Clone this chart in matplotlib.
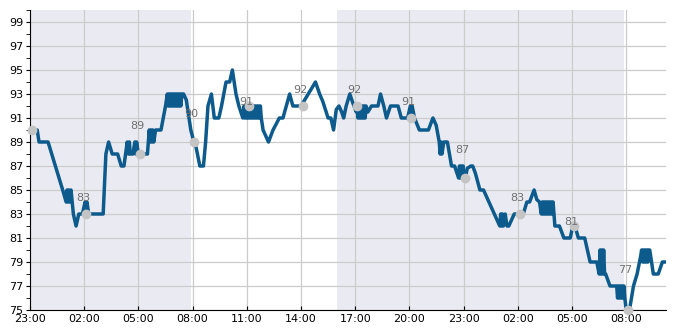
import matplotlib
matplotlib.use("Agg")
import matplotlib.pyplot as plt
from matplotlib.ticker import MultipleLocator

# hours since 23:00 on day 1 (dense parts are the jitter blocks)
hours = [0.0, 0.4, 0.5, 1.0, 1.81, 2.0, 2.05, 2.1, 2.15, 2.2, 2.27, 2.4, 2.55, 2.7, 2.9,
         3.05, 3.1, 3.15, 3.25, 4.05, 4.2, 4.35, 4.55, 4.85, 5.05, 5.2, 5.38, 5.45, 5.5,
         5.55, 5.7, 5.8, 5.85, 5.9, 6.0, 6.5, 6.6, 6.65, 6.7, 6.75, 6.8, 6.85, 6.95, 7.25,
         7.5, 7.6, 7.65, 7.7, 7.75, 7.8, 7.85, 7.9, 7.95, 8.0, 8.05, 8.1, 8.15, 8.2, 8.25,
         8.3, 8.35, 8.4, 8.5, 8.65, 8.8, 8.9, 9.07, 9.2, 9.4, 9.6, 9.72, 9.85, 10.04, 10.2,
         10.45, 10.6, 10.85, 11.05, 11.2, 11.4, 11.56, 11.78, 11.85, 11.9, 11.95, 12.0,
         12.05, 12.1, 12.15, 12.2, 12.25, 12.3, 12.35, 12.4, 12.45, 12.5, 12.55, 12.6,
         12.65, 12.7, 12.75, 12.8, 12.9, 13.2, 13.45, 13.8, 14.0, 14.37, 14.55, 15.0, 15.4,
         15.8, 16.03, 16.2, 16.5, 16.65, 16.8, 16.95, 17.1, 17.25, 17.36, 17.5, 17.7, 17.88,
         18.06, 18.1, 18.15, 18.2, 18.25, 18.3, 18.35, 18.4, 18.45, 18.5, 18.55, 18.6,
         18.7, 18.9, 19.26, 19.4, 19.58, 19.73, 19.95, 20.37, 20.55, 20.9, 21.05, 21.1,
         21.15, 21.28, 21.55, 22.05, 22.3, 22.48, 22.65, 22.7, 22.75, 22.8, 22.9, 23.1,
         23.33, 23.5, 23.72, 23.77, 23.82, 23.87, 23.92, 23.97, 24.02, 24.1, 24.2, 24.4,
         24.5, 24.65, 24.9, 25.1, 26.0, 26.05, 26.1, 26.15, 26.2, 26.3, 26.4, 26.5, 26.8,
         27.3, 27.5, 27.65, 27.9, 28.05, 28.2, 28.3, 28.35, 28.4, 28.45, 28.5, 28.55, 28.6,
         28.65, 28.7, 28.75, 28.8, 28.85, 28.9, 28.95, 29.05, 29.3, 29.55, 29.9, 30.04,
         30.2, 30.35, 30.7, 31.0, 31.37, 31.5, 31.55, 31.6, 31.65, 31.7, 31.75, 31.8,
         31.86, 32.1, 32.47, 32.52, 32.57, 32.62, 32.67, 32.72, 32.77, 32.82, 32.87, 32.92,
         33.0, 33.2, 33.4, 33.6, 33.8, 33.85, 33.9, 33.95, 34.0, 34.05, 34.1, 34.15, 34.2,
         34.25, 34.3, 34.5, 34.77, 35.0, 35.2]
values = [90, 90, 89, 89, 85, 84, 85, 84, 85, 84, 85, 83, 82, 83, 83,
          84, 83.5, 84, 83, 83, 88, 89, 88, 88, 87, 87, 89, 88, 89,
          88, 88, 89, 88, 89, 88, 88, 90, 89, 90, 89, 90, 89, 90, 90,
          92, 93, 92, 93, 92, 93, 92, 93, 92, 93, 92, 93, 92, 93, 92,
          93, 92, 93, 93, 92.5, 91, 90, 89, 88.5, 87, 87, 89, 92, 93, 91,
          91, 92, 94, 94, 95, 93, 92, 91, 92, 91, 92, 91,
          92, 91, 92, 91, 92, 91, 92, 91, 92, 91, 92, 91,
          92, 91, 92, 91, 90, 89, 90, 91, 91, 93, 92, 92, 93,
          94, 93, 92.4, 91, 91, 90, 91.7, 92, 91.5, 91, 92, 93, 92.2,
          91.5, 92, 91, 92, 91, 92, 91, 92, 91, 92, 91, 92,
          91.5, 92, 92, 93, 92, 91, 92, 92, 91, 91, 92, 91,
          92, 91, 90, 90, 91, 90.4, 89, 88, 89, 88, 89, 89,
          87, 87, 86, 87, 86, 87, 86, 87, 86, 86, 86.8, 87,
          87, 86.4, 85, 85, 82, 83, 82, 83, 82, 83, 82, 82, 83,
          83, 84, 84, 85, 84.2, 84, 83, 84, 83, 84, 83, 84, 83,
          84, 83, 84, 83, 84, 83, 84, 82, 82, 81, 81, 82,
          81.8, 81, 81, 79, 79, 78, 80, 78, 80, 78, 80, 78,
          78, 77, 77, 76, 77, 76, 77, 76, 77, 76, 77, 76,
          75, 75.2, 77, 78, 79.5, 80, 79, 80, 79, 80, 79, 80, 79,
          80, 80, 78, 78, 79, 79]

# grey markers every 3 hours and their labels
mark_hours = [0.1, 3.1, 6.1, 9.1, 12.1, 15.1, 18.1, 21.1, 24.1, 27.1, 30.1, 33.1]
mark_values = [90, 83, 88, 89, 92, 92, 92, 91, 86, 83, 82, 75]
mark_labels = ["", "83", "89", "90", "91", "92", "92", "91", "87", "83", "81", "77"]

# shaded night periods
shade_spans = [(0.0, 8.9), (17.0, 32.9)]

tick_hours = [0, 3, 6, 9, 12, 15, 18, 21, 24, 27, 30, 33]
tick_labels = ["23:00", "02:00", "05:00", "08:00", "11:00", "14:00",
               "17:00", "20:00", "23:00", "02:00", "05:00", "08:00"]

fig = plt.figure(figsize=(6.85, 3.3), dpi=100)
ax = fig.add_axes([30/685, 20/330, 636/685, 300/330])

for a, b in shade_spans:
    ax.axvspan(a, b, color="#eaeaf2", lw=0, zorder=0)

ax.plot(hours, values, color="#0d5a8c", lw=2.5, solid_joinstyle="round", zorder=3)
ax.plot(mark_hours, mark_values, "o", color="#c4c4c4", ms=6, zorder=4, clip_on=False)
for t, v, lab in zip(mark_hours, mark_values, mark_labels):
    if lab:
        ax.text(t - 0.15, float(lab) + 1.33, lab, ha="center", va="center",
                fontsize=8, color="#707070", zorder=5)

ax.set_xlim(0, 35.2)
ax.set_ylim(75, 100)
ax.set_xticks(tick_hours)
ax.set_xticklabels(tick_labels)
ax.set_yticks(range(75, 100, 2))
ax.yaxis.set_minor_locator(MultipleLocator(1))
ax.grid(True, color="#cccccc", lw=0.9, zorder=1)
ax.set_axisbelow(True)
ax.tick_params(axis="x", direction="in", length=3, labelsize=8, pad=3)
ax.tick_params(axis="y", which="both", direction="out", length=3, labelsize=8, pad=2)
for s in ["top", "right"]:
    ax.spines[s].set_visible(False)

plt.savefig("out.png", dpi=100)
